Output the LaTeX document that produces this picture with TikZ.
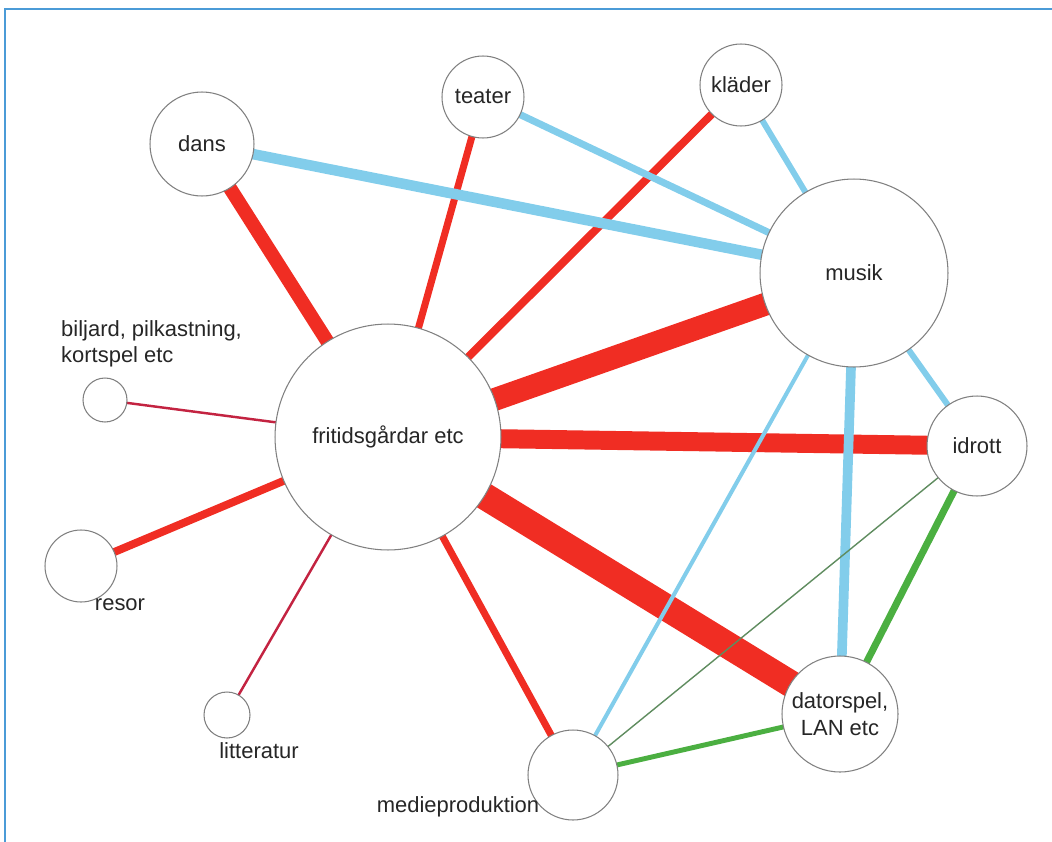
\documentclass[tikz,border=0pt]{standalone}
\usepackage{fontspec}
\setmainfont{Liberation Sans}
\usepackage{tikz}
\usetikzlibrary{backgrounds}
\definecolor{linkred}{RGB}{240,45,35}
\definecolor{thinred}{RGB}{195,35,65}
\definecolor{linkblue}{RGB}{130,205,235}
\definecolor{linkgreen}{RGB}{75,175,65}
\definecolor{thingreen}{RGB}{95,140,95}
\definecolor{frameblue}{RGB}{75,155,215}

\begin{document}
\begin{tikzpicture}[x=0.02cm, y=-0.02cm,
    every node/.style={font=\fontsize{12.5}{15}\selectfont, text=black!85},
    blob/.style={circle, draw=black!50, line width=0.6pt, fill=white, inner sep=0pt, align=center},
    rlink/.style={draw=linkred, shorten <=-3pt, shorten >=-3pt},
    blink/.style={draw=linkblue, shorten <=-3pt, shorten >=-3pt},
    glink/.style={draw=linkgreen, shorten <=-3pt, shorten >=-3pt}]
    \useasboundingbox (0,0) rectangle (1052,842);
    \draw[frameblue, line width=1.7pt] (5,842) -- (5,9) -- (1052,9);

    \node[blob, minimum size=4.52cm](fritid) at (388,437) {fritidsgårdar etc};
    \node[blob, minimum size=3.76cm](musik) at (854,273) {musik};
    \node[blob, minimum size=1.64cm](klader) at (741,85) {kläder};
    \node[blob, minimum size=1.64cm](teater) at (483,97) {teater};
    \node[blob, minimum size=2.08cm](dans) at (202,144) {dans};
    \node[blob, minimum size=0.88cm](biljard) at (105,400) {};
    \node[blob, minimum size=1.44cm](resor) at (81,566) {};
    \node[blob, minimum size=0.92cm](litteratur) at (227,715) {};
    \node[blob, minimum size=1.8cm](medie) at (573,775) {};
    \node[blob, minimum size=2.32cm](dator) at (840,714) {datorspel,\\LAN etc};
    \node[blob, minimum size=2.0cm](idrott) at (977,446) {idrott};

    \node[anchor=west, align=left](biljardtext) at (55,344) {biljard, pilkastning,\\kortspel etc};
    \node(resortext) at (120,605) {resor};
    \node(littext) at (259,751) {litteratur};
    \node(medietext) at (458,807) {medieproduktion};

    \begin{pgfonlayer}{background}
    % fritidsgardar
    \draw[rlink, line width=7.9pt](fritid)--(dans);
    \draw[rlink, line width=4pt](fritid)--(teater);
    \draw[rlink, line width=4.5pt](fritid)--(klader);
    \draw[rlink, line width=13pt](fritid)--(musik);
    \draw[rlink, line width=10.8pt](fritid)--(idrott);
    \draw[rlink, line width=15.3pt](fritid)--(dator);
    \draw[rlink, line width=4pt](fritid)--(medie);
    \draw[rlink, draw=thinred, line width=1.4pt](fritid)--(litteratur);
    \draw[rlink, line width=4.5pt](fritid)--(resor);
    \draw[rlink, draw=thinred, line width=1.4pt](fritid)--(biljard);
    % musik
    \draw[blink, line width=6pt](musik)--(dans);
    \draw[blink, line width=4pt](musik)--(teater);
    \draw[blink, line width=3.4pt](musik)--(klader);
    \draw[blink, line width=3.4pt](musik)--(idrott);
    \draw[blink, line width=5.5pt](musik)--(dator);
    \draw[blink, line width=2.3pt](musik)--(medie);
    % datorspel
    \draw[glink, line width=4pt](idrott)--(dator);
    \draw[glink, line width=2.8pt](dator)--(medie);
    \draw[glink, draw=thingreen, line width=0.8pt](idrott)--(medie);
    \end{pgfonlayer}
\end{tikzpicture}
\end{document}
